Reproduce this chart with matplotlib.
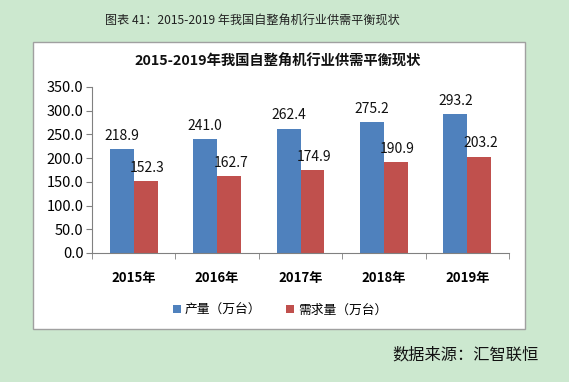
import matplotlib.pyplot as plt
from matplotlib.patches import Rectangle
import numpy as np

plt.rcParams['font.family'] = ['Noto Sans CJK SC', 'DejaVu Sans']

years = ["2015年", "2016年", "2017年", "2018年", "2019年"]
supply = [218.9, 241.0, 262.4, 275.2, 293.2]
demand = [152.3, 162.7, 174.9, 190.9, 203.2]
y_ticks = [0, 50, 100, 150, 200, 250, 300, 350]

W, H = 569, 382
fig = plt.figure(figsize=(W / 100, H / 100), dpi=100)
fig.patch.set_facecolor("#CCE8CF")

# white chart box
fig.patches.append(Rectangle((33 / W, 1 - 329 / H), (525 - 33) / W, (329 - 42) / H,
                             transform=fig.transFigure, facecolor="white",
                             edgecolor="#A0A0A0", linewidth=1.0, zorder=-10))

fig.text(252 / W, 1 - 21 / H, "图表 41：2015-2019 年我国自整角机行业供需平衡现状",
         ha="center", va="center", fontsize=8.7, color="#222222")
fig.text(278 / W, 1 - 62 / H, "2015-2019年我国自整角机行业供需平衡现状",
         ha="center", va="center", fontsize=10.3, fontweight="bold", color="#111111")
fig.text(539 / W, 1 - 355 / H, "数据来源：汇智联恒",
         ha="right", va="center", fontsize=11.7, color="#111111")

ax = fig.add_axes([92 / W, 1 - 253 / H, 417 / W, 166 / H], zorder=1)
ax.set_facecolor("none")

x = np.arange(len(years))
bw = 0.287
b1 = ax.bar(x - bw / 2, supply, bw, color="#4F81BD", label="产量（万台）")
b2 = ax.bar(x + bw / 2, demand, bw, color="#C0504D", label="需求量（万台）")

for xi, v in zip(x, supply):
    ax.text(xi - bw / 2, v + 13, f"{v:.1f}", ha="center", va="bottom", fontsize=10, color="#111111")
for xi, v in zip(x, demand):
    ax.text(xi + bw / 2 + 0.02, v + 13, f"{v:.1f}", ha="center", va="bottom", fontsize=10, color="#111111")

ax.set_xlim(-0.5, len(years) - 0.5)
ax.set_ylim(0, 350)
ax.set_yticks(y_ticks)
ax.set_yticklabels([f"{t:.1f}" for t in y_ticks], fontsize=10.5, fontweight="medium")
ax.set_xticks(x)
ax.set_xticklabels(years, fontsize=9.5, fontweight="bold")
ax.tick_params(axis="x", length=0, pad=13)
ax.set_xticks(np.arange(-0.5, len(years) + 0.5, 1), minor=True)
ax.tick_params(axis="x", which="minor", length=4, color="#808080")
ax.tick_params(axis="y", length=4, color="#808080", pad=2)
for s in ["top", "right"]:
    ax.spines[s].set_visible(False)
for s in ["left", "bottom"]:
    ax.spines[s].set_color("#808080")

fig.legend(handles=[b1, b2], loc="center", bbox_to_anchor=(280 / W, 1 - 310 / H),
           ncol=2, frameon=False, fontsize=9.2, handlelength=0.6, handleheight=0.6,
           handletextpad=0.3, columnspacing=2.0)

fig.savefig("out.png", dpi=100, facecolor=fig.get_facecolor())
